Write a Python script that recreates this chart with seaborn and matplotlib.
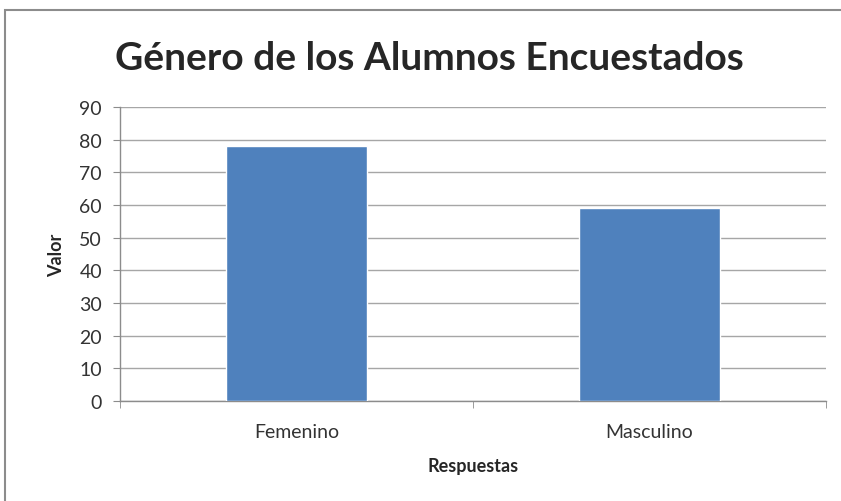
import numpy as np
import pandas as pd
import matplotlib.pyplot as plt
import matplotlib.patches as patches
import seaborn as sns

categorias = ['Femenino', 'Masculino']
valores = [78, 59]

df = pd.DataFrame({'Respuestas': categorias, 'Valor': valores})

sns.set_style('white')
plt.rcParams['font.family'] = ['Lato', 'DejaVu Sans']

fig = plt.figure(figsize=(8.41, 5.02), dpi=100)
ax = fig.add_axes([0.1427, 0.199, 0.8393, 0.586])

sns.barplot(data=df, x='Respuestas', y='Valor', color='#4f81bd', width=0.4,
            saturation=1, ax=ax, zorder=3)

ax.set_ylim(0, 90)
ax.set_xlim(-0.5, 1.5)
ax.set_yticks(range(0, 91, 10))
ax.yaxis.grid(True, color='#a6a6a6', linewidth=1, zorder=0)
ax.set_axisbelow(True)

for s in ['top', 'right']:
    ax.spines[s].set_visible(False)
for s in ['left', 'bottom']:
    ax.spines[s].set_color('#8c8c8c')
    ax.spines[s].set_linewidth(1)

ax.tick_params(axis='y', direction='out', length=5, color='#8c8c8c',
               labelsize=14, labelcolor='#333333', left=True, pad=8)
ax.tick_params(axis='x', length=0, labelsize=14, labelcolor='#333333', pad=16)
ax.set_xticks([-0.5, 0.5, 1.5], minor=True)
ax.tick_params(axis='x', which='minor', direction='out', length=5,
               color='#8c8c8c', bottom=True)

ax.set_xlabel('Respuestas', fontsize=13, fontweight='bold', labelpad=12)
ax.set_ylabel('Valor', fontsize=13, fontweight='bold', labelpad=10)

fig.text(0.51, 0.884, 'Género de los Alumnos Encuestados', ha='center',
         va='center', fontsize=28, fontweight='bold')

# marco exterior del gráfico
fig.patches.append(patches.Rectangle((5 / 841, -0.02), 1.0, 1 - 11 / 502 + 0.02,
                                     transform=fig.transFigure, fill=False,
                                     edgecolor='#8c8c8c', linewidth=1.5))

fig.savefig('out.png', dpi=100)
